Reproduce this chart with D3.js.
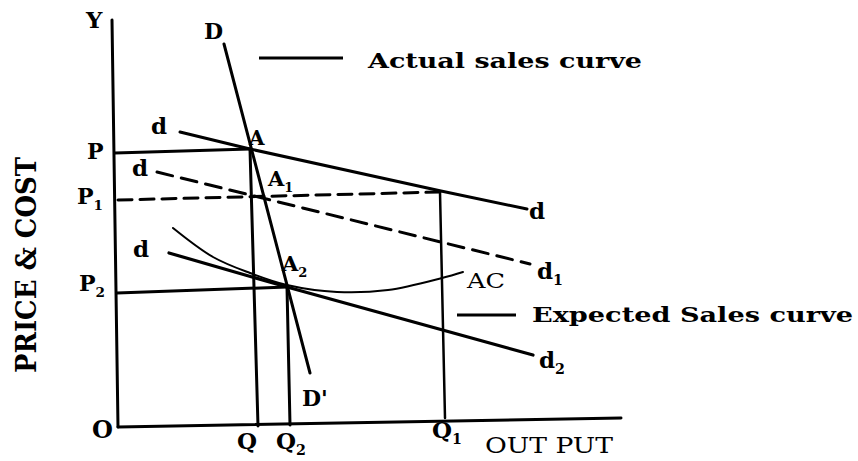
<!DOCTYPE html>
<html>
<head>
<meta charset="utf-8">
<script src="https://cdn.jsdelivr.net/npm/d3@7"></script>
<style>
  body { margin: 0; background: #fff; }
  text { font-family: "DejaVu Serif", serif; font-weight: bold; fill: #000; }
</style>
</head>
<body>
<div id="chart"></div>
<script>
// chart data, in output / price units (0..100)
var yAxisPts = [[-1.2, 101.75], [0, 0]];
var xAxisPts = [[0, 0], [100.6, 2.25]];
var actualD = [[12.4, 73.75], [26.4, 69.5], [64.6, 59], [81.8, 54.5]];
var shiftedD1 = [[7.8, 63.75], [82.4, 40.75]];
var expectedD2 = [[10.2, 43.5], [33.8, 35], [83, 18]];
var bigD = [[21.2, 95.75], [38.4, 13.5]];
var acCurve = [[11, 49.75], [19, 42.5], [26.4, 38.5], [33.8, 35.5], [43.8, 33.75], [54, 34.25], [64.8, 37.25], [69, 38.75]];
var pLine = [[-0.6, 68.5], [26.4, 69.5]];
var qLine = [[26.4, 69.5], [28, 0.25]];
var p1Line = [[0, 56.75], [64.4, 58.75]];
var q1Line = [[64.4, 58.75], [65.4, 2.25]];
var p2Line = [[-0.2, 33.5], [33.8, 35]];
var q2Line = [[33.8, 35], [34.4, 0.5]];

var w = 858, h = 461;

var x = d3.scaleLinear().domain([0, 100]).range([118, 618]);
var y = d3.scaleLinear().domain([0, 100]).range([427, 27]);

var svg = d3.select("#chart").append("svg")
    .attr("width", w)
    .attr("height", h);

var line = d3.line()
    .x(function(d) { return x(d[0]); })
    .y(function(d) { return y(d[1]); });

function draw(pts, width, dash, curve) {
    var gen = curve ? line.curve(curve) : line.curve(d3.curveLinear);
    svg.append("path")
        .attr("d", gen(pts))
        .attr("fill", "none")
        .attr("stroke", "#000")
        .attr("stroke-width", width)
        .attr("stroke-linecap", "round")
        .attr("stroke-dasharray", dash || null);
}

// axes
draw(yAxisPts, 3);
draw(xAxisPts, 3);

// guide lines
draw(pLine, 3);
draw(qLine, 3);
draw(p1Line, 3, "14,8");
draw(q1Line, 2.5);
draw(p2Line, 3);
draw(q2Line, 3);

// curves
draw(actualD, 3);
draw(shiftedD1, 3, "16,9");
draw(expectedD2, 3.2);
draw(bigD, 3);
draw(acCurve, 2, null, d3.curveCatmullRom);

// legend
svg.append("line").attr("x1", 259).attr("x2", 343).attr("y1", 58).attr("y2", 58)
    .attr("stroke", "#000").attr("stroke-width", 3);
svg.append("line").attr("x1", 457).attr("x2", 516).attr("y1", 315).attr("y2", 315)
    .attr("stroke", "#000").attr("stroke-width", 3);

function label(txt, px, py, size, len, weight) {
    var t = svg.append("text")
        .attr("x", px)
        .attr("y", py)
        .style("font-size", size + "px")
        .text(txt);
    if (len) t.attr("textLength", len).attr("lengthAdjust", "spacingAndGlyphs");
    if (weight) t.style("font-weight", weight);
    return t;
}

function sub(txt, s, px, py, size) {
    var t = label(txt, px, py, size);
    t.append("tspan").attr("dy", 6).style("font-size", (size * 0.62) + "px").text(s);
}

label("Actual sales curve", 368, 68, 21, 274);
label("Expected Sales curve", 532, 322, 21, 321);

label("Y", 86, 28, 23);
label("D", 204, 39, 22);
label("d", 151, 134, 23);
label("A", 249, 145, 20);
label("P", 87, 159, 22);
label("d", 132, 176, 23);
sub("A", "1", 268, 186, 21);
sub("P", "1", 77, 204, 22);
label("d", 133, 257, 23);
sub("A", "2", 282, 271, 21);
sub("P", "2", 79, 291, 22);
label("D'", 302, 406, 22);
label("O", 92, 438, 24);
label("Q", 237, 449, 23);
sub("Q", "2", 276, 449, 23);
sub("Q", "1", 432, 438, 23);
label("OUT PUT", 485, 453, 23, 128, "normal");
label("d", 529, 219, 23);
sub("d", "1", 537, 279, 23);
label("AC", 467, 288, 21, 38, "normal");
sub("d", "2", 539, 368, 23);

// y axis title
svg.append("text")
    .attr("transform", "translate(36,265) rotate(-90)")
    .attr("text-anchor", "middle")
    .attr("textLength", 216)
    .attr("lengthAdjust", "spacingAndGlyphs")
    .style("font-size", "27px")
    .text("PRICE & COST");
</script>
</body>
</html>
